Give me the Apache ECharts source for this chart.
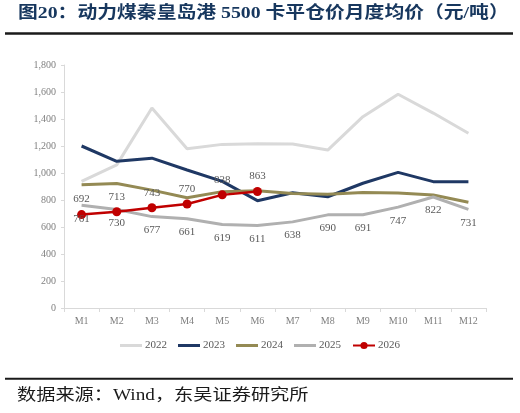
<!DOCTYPE html>
<html>
<head>
<meta charset="utf-8">
<script src="https://cdn.jsdelivr.net/npm/echarts@6/dist/echarts.min.js"></script>
<style>html,body{margin:0;padding:0;background:#fff;}#c{width:520px;height:413px;}</style>
</head>
<body>
<div id="c"></div>
<script>
var categories = ['M1','M2','M3','M4','M5','M6','M7','M8','M9','M10','M11','M12'];
var yTicks = [0,200,400,600,800,1000,1200,1400,1600,1800];
var s2022 = [938,1060,1482,1180,1212,1216,1215,1170,1417,1583,1444,1294];
var s2023 = [1200,1087,1110,1022,938,795,854,824,924,1005,936,936];
var s2024 = [913,922,873,816,862,869,849,842,856,852,837,783];
var s2025 = [761,730,677,661,619,611,638,690,691,747,822,731];
var s2026 = [692,713,743,770,838,863];
var seriesNames = ['2022','2023','2024','2025','2026'];
var titleText = '图20：动力煤秦皇岛港 5500 卡平仓价月度均价（元/吨）';
var sourceText = '数据来源：Wind，东吴证券研究所';

var serif = '"Liberation Serif", "Times New Roman", "Noto Sans CJK SC", serif';
var lineIcon = 'path://M0,0h22v3h-22z';
var chart = echarts.init(document.getElementById('c'), null, {renderer:'canvas'});
var labelColor = '#595959';
chart.setOption({
  animation: false,
  backgroundColor: '#fff',
  grid: {left: 64, right: 34, top: 65, bottom: 105, containLabel: false},
  legend: {
    data: [
      {name: '2022', icon: lineIcon},
      {name: '2023', icon: lineIcon},
      {name: '2024', icon: lineIcon},
      {name: '2025', icon: lineIcon},
      {name: '2026'}
    ],
    bottom: 57,
    left: 'center',
    itemWidth: 22,
    itemHeight: 9,
    itemGap: 11,
    textStyle: {fontFamily: serif, fontSize: 11, color: labelColor, padding: [0,0,0,-2]}
  },
  xAxis: {
    type: 'category',
    data: categories,
    boundaryGap: true,
    axisLine: {lineStyle: {color: '#d9d9d9', width: 1}},
    axisTick: {show: true, length: 4, lineStyle: {color: '#d9d9d9'}},
    axisLabel: {fontFamily: serif, fontSize: 10, color: '#7f7f7f', margin: 8},
    splitLine: {show: false}
  },
  yAxis: {
    type: 'value',
    min: yTicks[0],
    max: yTicks[yTicks.length-1],
    interval: 200,
    axisLine: {show: true, lineStyle: {color: '#d9d9d9', width: 1}},
    axisTick: {show: true, length: 3, lineStyle: {color: '#d9d9d9'}},
    axisLabel: {fontFamily: serif, fontSize: 10, color: '#7f7f7f', margin: 8,
      formatter: function(v){ return v.toLocaleString('en-US'); }},
    splitLine: {show: false}
  },
  series: [
    {name: '2022', type: 'line', data: s2022, symbol: 'none', lineStyle: {color: '#d9d9d9', width: 3}, itemStyle: {color: '#d9d9d9'}},
    {name: '2023', type: 'line', data: s2023, symbol: 'none', lineStyle: {color: '#1f3864', width: 3}, itemStyle: {color: '#1f3864'}},
    {name: '2024', type: 'line', data: s2024, symbol: 'none', lineStyle: {color: '#948a54', width: 3}, itemStyle: {color: '#948a54'}},
    {name: '2025', type: 'line', data: s2025, symbol: 'circle', symbolSize: 0, showSymbol: true,
      lineStyle: {color: '#b0b0b0', width: 3}, itemStyle: {color: '#b0b0b0'},
      label: {show: true, position: 'bottom', distance: 8, fontFamily: serif, fontSize: 11, color: labelColor}},
    {name: '2026', type: 'line', data: s2026, symbol: 'circle', symbolSize: 9, showSymbol: true,
      lineStyle: {color: '#c00000', width: 2.5}, itemStyle: {color: '#c00000'},
      label: {show: true, position: 'top', distance: 5, fontFamily: serif, fontSize: 11, color: labelColor}}
  ],
  graphic: [
    {type: 'text', x: 18, y: 14, scaleX: 1.165, style: {text: titleText, fontSize: 17, fontWeight: 'bold', fontFamily: serif, fill: '#17375e', textAlign: 'left', textVerticalAlign: 'middle'}},
    {type: 'line', shape: {x1: 5, y1: 33.5, x2: 513, y2: 33.5}, style: {stroke: '#1a1a1a', lineWidth: 2.3}},
    {type: 'line', shape: {x1: 5, y1: 378.7, x2: 513, y2: 378.7}, style: {stroke: '#1a1a1a', lineWidth: 2}},
    {type: 'text', x: 17, y: 395.5, scaleX: 1.2, style: {text: sourceText, fontSize: 16, fontFamily: serif, fill: '#1a1a1a', textAlign: 'left', textVerticalAlign: 'middle'}}
  ]
});
</script>
</body>
</html>
